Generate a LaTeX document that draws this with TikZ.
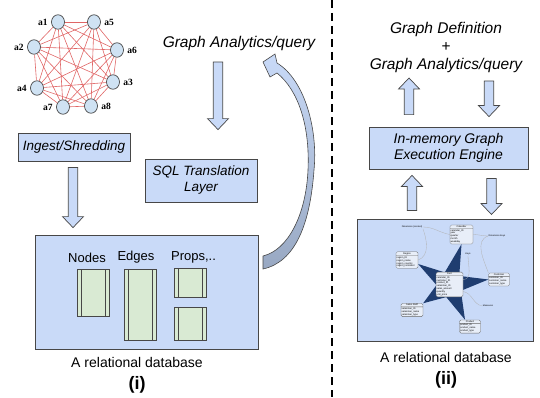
\documentclass[tikz,border=0pt]{standalone}
\usepackage{fontspec}
\setmainfont{Liberation Sans}
\newfontfamily\labelfont{Liberation Serif}
\usepackage{tikz}
\usetikzlibrary{calc}
\usetikzlibrary{shapes.geometric,shapes.multipart}
\usetikzlibrary{positioning}

\definecolor{boxblue}{HTML}{C9DAF8}
\definecolor{nodeblue}{HTML}{CFE2F3}
\definecolor{edgered}{HTML}{E06666}
\definecolor{linegray}{HTML}{474747}
\definecolor{tablegreen}{HTML}{D9EAD3}
\definecolor{starblue}{HTML}{1F3D70}
\definecolor{dimfill}{HTML}{E8EEF8}
\definecolor{arrowdark}{HTML}{98A8C2}

\tikzset{
  gnode/.style={ellipse, draw=linegray, fill=nodeblue, line width=0.7pt, inner sep=0pt,
    minimum width=13pt, minimum height=14.5pt, label distance=1pt},
  alabel/.style={font=\labelfont\bfseries\fontsize{9.5}{11}\selectfont},
  procbox/.style={draw=linegray, fill=boxblue, line width=0.8pt, inner sep=0pt, align=center,
    font=\itshape\fontsize{13.5}{16}\selectfont},
  dbtable/.style={draw=linegray, fill=tablegreen, line width=0.8pt, minimum width=32pt, inner sep=0pt,
    path picture={\draw[linegray, line width=0.7pt]
      ([xshift=4pt]path picture bounding box.north west) -- ([xshift=4pt]path picture bounding box.south west)
      ([xshift=-4pt]path picture bounding box.north east) -- ([xshift=-4pt]path picture bounding box.south east);}},
  arrowdown/.style={draw=linegray, fill=boxblue, line width=0.7pt,
    to path={let \p1=(\tikztostart), \p2=(\tikztotarget) in
      (\x1-4.7pt,\y1) -- (\x1-4.7pt,\y2+11pt) -- (\x1-10.5pt,\y2+11pt) -- (\x1,\y2)
      -- (\x1+10.5pt,\y2+11pt) -- (\x1+4.7pt,\y2+11pt) -- (\x1+4.7pt,\y1) -- cycle}},
  arrowup/.style={draw=linegray, fill=boxblue, line width=0.7pt,
    to path={let \p1=(\tikztostart), \p2=(\tikztotarget) in
      (\x1-4.7pt,\y1) -- (\x1-4.7pt,\y2-11pt) -- (\x1-10.5pt,\y2-11pt) -- (\x1,\y2)
      -- (\x1+10.5pt,\y2-11pt) -- (\x1+4.7pt,\y2-11pt) -- (\x1+4.7pt,\y1) -- cycle}},
  dimtab/.style={rectangle split, rectangle split parts=2, draw=gray!80!black, line width=0.3pt,
    fill=dimfill, rounded corners=1.5pt, inner sep=0.7pt, align=left,
    rectangle split part align={center,left}, font=\fontsize{2.4}{2.9}\selectfont},
  startext/.style={font=\fontsize{2.3}{2.8}\selectfont, inner sep=0.5pt},
  note/.style={draw=gray!60, line width=0.3pt}
}

\begin{document}
\begin{tikzpicture}[x=1pt,y=1pt]
\useasboundingbox (0,0) rectangle (540,397);

% the graph
\foreach \n/\x/\y/\p in {a1/58/375/left, a5/94/375/right, a2/34/350/left, a6/117/347/right,
    a4/37/309/left, a3/113/315/right, a7/63/290/left, a8/91/291/right}
  \node[gnode, label={[alabel]\p:\n}] (\n) at (\x,\y) {};
\foreach \i/\rest in {a1/{a5,a6,a3,a8,a7,a4,a2}, a5/{a6,a3,a8,a7,a4,a2}, a6/{a3,a8,a7,a4,a2},
    a3/{a8,a7,a4,a2}, a8/{a7,a4,a2}, a7/{a4,a2}, a4/{a2}}
  \foreach \j in \rest
    \draw[edgered, line width=0.6pt] (\i) -- (\j);

% (i)
\node[font=\itshape\fontsize{15.5}{18}\selectfont] (query1) at (239,354) {Graph Analytics/query};
\node[procbox, minimum width=112pt, minimum height=28pt] (ingest) at (74,250) {Ingest/Shredding};
\node[procbox, minimum width=112pt, minimum height=43pt] (sql) at (201,216.5) {SQL Translation\\Layer};
\node[draw=linegray, fill=boxblue, line width=0.8pt, minimum width=223pt, minimum height=114pt] (db1) at (146.5,105) {};
\node[font=\fontsize{13}{15}\selectfont] (nodes) at (87,139.5) {Nodes};
\node[font=\fontsize{13}{15}\selectfont] (edges) at (136,139.5) {Edges};
\node[font=\fontsize{13}{15}\selectfont] (props) at (193.5,139.5) {Props,..};
\node[dbtable, minimum height=47pt] (ntab) at (93,104.5) {};
\node[dbtable, minimum height=71pt] (etab) at (140,92.5) {};
\node[dbtable, minimum height=29pt] (ptab1) at (190,114.5) {};
\node[dbtable, minimum height=33pt] (ptab2) at (190,73.5) {};
\node[font=\fontsize{14}{16}\selectfont] (rel1) at (137,35) {A relational database};
\node[font=\bfseries\fontsize{18}{20}\selectfont] (cap1) at (137,12) {(i)};

\draw[arrowdown] ([xshift=-21pt,yshift=-19pt]query1.center) to ([xshift=17pt,yshift=29pt]sql.north);
\draw[arrowdown] ([xshift=-1pt,yshift=-6pt]ingest.south) to ([xshift=-73.5pt,yshift=7pt]db1.north);
% curved arrow back to the query
\draw[line width=0.6pt, draw=linegray, top color=boxblue, bottom color=arrowdark]
  (263,335) -- (275,343) -- (277,334)
  .. controls (305,317) and (318,267) .. (314,227)
  .. controls (310,172) and (295,135) .. (263,128)
  -- (263,141)
  .. controls (288,147) and (306,182) .. (308,227)
  .. controls (310,272) and (298,307) .. (277,324)
  -- (270,320) -- cycle;

% divider
\coordinate (divtop) at (332,397);
\coordinate (divbot) at (332,0);
\draw[line width=1.6pt, dash pattern=on 8pt off 5pt] (divtop) -- (divbot);

% (ii)
\node[font=\itshape\fontsize{15.5}{18}\selectfont, align=center] (query2) at (446,350)
  {Graph Definition\\+\\Graph Analytics/query};
\node[procbox, font=\itshape\fontsize{14}{15.5}\selectfont, minimum width=159pt, minimum height=42pt] (engine) at (448.5,249)
  {In-memory Graph\\Execution Engine};
\node[draw=linegray, fill=boxblue, line width=1pt, minimum width=176pt, minimum height=122pt] (db2) at (445,117) {};
\node[font=\fontsize{14}{16}\selectfont] (rel2) at (446,40) {A relational database};
\node[font=\bfseries\fontsize{18}{20}\selectfont] (cap2) at (446,17) {(ii)};

\draw[arrowup] ([xshift=-39.5pt,yshift=12pt]engine.north) to ([xshift=-37pt,yshift=-31pt]query2.center);
\draw[arrowdown] ([xshift=43pt,yshift=-34pt]query2.center) to ([xshift=40.5pt,yshift=10pt]engine.north);
\draw[arrowup] ([xshift=-33pt,yshift=8pt]db2.north) to ([xshift=-36.5pt,yshift=-6pt]engine.south);
\draw[arrowdown] ([xshift=43pt,yshift=-9pt]engine.south) to ([xshift=46.5pt,yshift=4pt]db2.north);

% star schema
\node[dimtab, minimum width=23pt, minimum height=21pt] (calendar) at (461.5,162.5)
  {Calendar \nodepart{two} calendar\_ID\\year\\quarter\\month\\weekday};
\node[dimtab, minimum width=22pt, minimum height=18pt] (region) at (407,137)
  {Region \nodepart{two} region\_ID\\region\_name\\region\_country\\region\_continent};
\node[dimtab, minimum width=21pt, minimum height=16pt] (customer) at (499,117.5)
  {Customer \nodepart{two} customer\_ID\\customer\_name\\customer\_type};
\node[dimtab, minimum width=22pt, minimum height=16pt] (sales) at (412,87)
  {Sales Staff \nodepart{two} salesman\_ID\\salesman\_name\\salesman\_type};
\node[dimtab, minimum width=21pt, minimum height=16pt] (product) at (470,70.5)
  {Product \nodepart{two} product\_ID\\product\_name\\product\_type};
\coordinate (factc) at (449.5,112.5);
\fill[starblue] (calendar.south) -- ([shift={(111.5:13pt)}]factc)
  -- ([yshift=-4pt]region.east) -- ([shift={(182.5:13pt)}]factc)
  -- (sales.north east) -- ([shift={(255.5:13pt)}]factc)
  -- ([xshift=-5pt]product.north) -- ([shift={(-29:13pt)}]factc)
  -- (customer.west) -- ([shift={(41.5:13pt)}]factc) -- cycle;
\node[dimtab, minimum width=27pt, minimum height=31pt] (fact) at (factc)
  {Fact \nodepart{two} calendar\_ID\\customer\_ID\\product\_ID\\salesman\_ID\\sales\_amount\\quantity\\unit\_price};
\node[startext] (dimctx) at (412,170) {Dimension (context)};
\node[startext] (dimkeys) at (497,161) {Dimension Keys};
\node[startext] (keys) at (468,143) {Keys};
\node[startext] (measures) at (488,91) {Measures};
\draw[note] (dimctx.east) to[out=0,in=170] (calendar.west);
\draw[note] (dimctx.south east) to[out=-70,in=20] (region.east);
\draw[note] (dimkeys.west) to[out=180,in=0] (calendar.east);
\draw[note] (dimkeys.west) to[out=200,in=110] (customer.north west);
\draw[note] (keys.south) to[out=-90,in=0] ([yshift=5pt]fact.east);
\draw[note] (measures.west) to[out=170,in=-10] ([yshift=-7pt]fact.east);
\end{tikzpicture}
\end{document}
